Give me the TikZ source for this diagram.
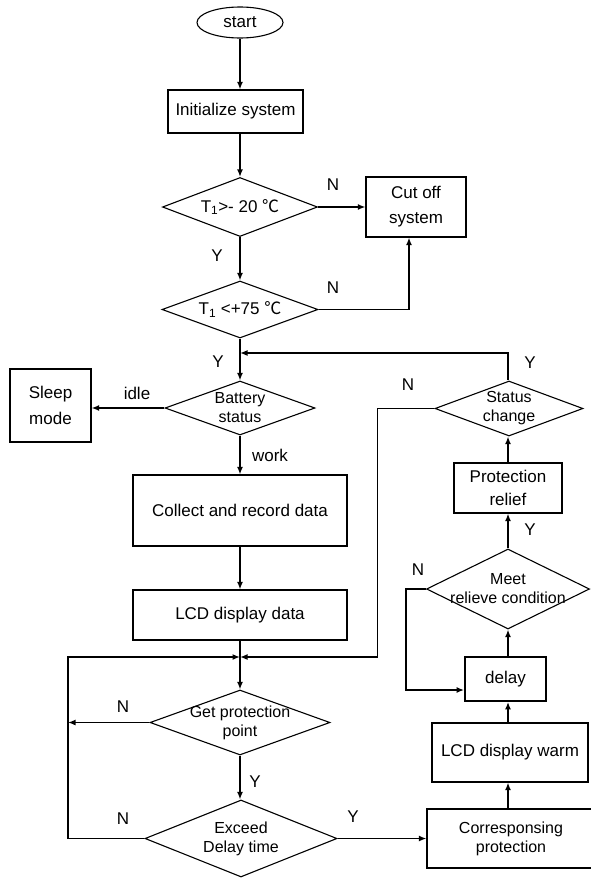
\documentclass[tikz,border=0pt]{standalone}
\usepackage{fontspec}
\setmainfont{Liberation Sans}
\newfontfamily\cjk{Noto Sans CJK SC}
\usetikzlibrary{shapes.geometric,arrows.meta,calc}
\begin{document}
\begin{tikzpicture}[x=1pt,y=-1pt,
  box/.style={draw, line width=1.1pt, rectangle, inner sep=0pt, align=center, font=\fontsize{17}{25}\selectfont},
  dia/.style={draw, line width=1.1pt, diamond, inner sep=0pt},
  dtxt/.style={align=center, inner sep=0pt, font=\fontsize{16}{19}\selectfont},
  ttxt/.style={align=center, inner sep=0pt, font=\fontsize{17}{20}\selectfont},
  conn/.style={line width=1.5pt, -{Latex[length=7.5pt,width=6pt]}},
  lab/.style={font=\fontsize{17}{20}\selectfont, inner sep=0pt}
]
\useasboundingbox (0,0) rectangle (591,878);

% nodes
\node[draw, line width=1.1pt, ellipse, inner sep=0pt, minimum width=86pt, minimum height=31pt, font=\fontsize{17}{20}\selectfont] (start) at (240,22.5) {start};
\node[box, minimum width=135pt, minimum height=43pt] (init) at (235.5,111.5) {Initialize system};
\node[dia, minimum width=155pt, minimum height=59pt] (d1) at (240,207) {};
\node[ttxt] (d1t) at (d1) {T\textsubscript{1}>- 20 {\cjk ℃}};
\node[box, minimum width=100pt, minimum height=60pt] (cut) at (416,207) {Cut off\\system};
\node[dia, minimum width=156pt, minimum height=57pt] (d2) at (240,309.5) {};
\node[ttxt] (d2t) at (d2) {T\textsubscript{1} <+75 {\cjk ℃}};
\node[dia, minimum width=150pt, minimum height=54pt] (bat) at (240,408) {};
\node[dtxt] (batt) at (bat) {Battery\\status};
\node[box, minimum width=81pt, minimum height=73pt, font=\fontsize{17}{26}\selectfont] (sleep) at (50.5,405.5) {Sleep\\mode};
\node[box, minimum width=214pt, minimum height=71pt] (collect) at (240,510.5) {Collect and record data};
\node[box, minimum width=214pt, minimum height=50pt] (lcd) at (240,615) {LCD display data};
\coordinate (j) at (240,657);
\coordinate (jtop) at (240,353);
\coordinate (lx) at (68,0);
\node[dia, minimum width=180pt, minimum height=65pt] (gp) at (240,722.5) {};
\node[dtxt] (gpt) at (gp) {Get protection\\point};
\node[dia, minimum width=192pt, minimum height=77pt] (ex) at (241,838.5) {};
\node[dtxt] (ext) at (ex) {Exceed\\Delay time};
\node[box, minimum width=168pt, minimum height=59pt, font=\fontsize{16}{19}\selectfont] (corr) at (511,838.5) {Corresponsing\\protection};
\node[box, minimum width=156pt, minimum height=59pt] (warm) at (510,752.5) {LCD display warm};
\node[box, line width=1.8pt, minimum width=81pt, minimum height=44pt] (delay) at (505.5,679) {delay};
\node[dia, minimum width=163pt, minimum height=80pt] (meet) at (508,589) {};
\node[dtxt] (meett) at (meet) {Meet\\relieve condition};
\node[box, minimum width=108pt, minimum height=50pt, font=\fontsize{17}{23}\selectfont] (relief) at (508,488) {Protection\\relief};
\node[dia, minimum width=148pt, minimum height=55pt] (sc) at (509,408.5) {};
\node[dtxt] (sct) at (sc) {Status\\change};

% connectors
\draw[conn] (start.south) -- (start.south |- init.north);
\draw[conn] (start.south |- init.south) -- (d1.north);
\draw[conn] (d1.east) -- (cut.west);
\draw[conn] (d1.south) -- (d2.north);
\draw[conn] (d2.east) -| ($(cut.south)+(-7,0)$);
\draw[conn] (d2.south) -- (bat.north);
\draw[conn] (sc.north -| relief.north) |- (jtop);
\draw[conn] (bat.west) -- (bat.west -| sleep.east);
\draw[conn] (bat.south) -- (collect.north);
\draw[conn] (collect.south) -- (lcd.north);
\draw[conn] (lcd.south) -- (gp.north);
\draw[conn] (sc.west) -- ++(-57,0) |- (j);
\draw[conn] (ex.west) -- (ex.west -| lx) |- (j);
\draw[conn] (gp.west) -- (gp.west -| lx);
\draw[conn] (gp.south) -- (gp.south |- ex.north);
\draw[conn] (ex.east) -- (corr.west);
\draw[conn] (relief.south |- corr.north) -- (relief.south |- warm.south);
\draw[conn] (relief.south |- warm.north) -- (relief.south |- delay.south);
\draw[conn] (relief.south |- delay.north) -- (meet.south);
\draw[conn] (meet.west) -- ++(-20,0) |- ($(delay.west)+(0,11)$);
\draw[conn] (meet.north) -- (relief.south);
\draw[conn] (relief.north) -- (relief.north |- sc.south);

% labels
\node[lab] (n1) at (333,185) {N};
\node[lab] (y1) at (217,256) {Y};
\node[lab] (n2) at (333,288) {N};
\node[lab] (y2) at (218,362) {Y};
\node[lab] (y3) at (530,363) {Y};
\node[lab] (idle) at (137,393) {idle};
\node[lab] (n3) at (408,385) {N};
\node[lab] (work) at (270,455) {work};
\node[lab] (y4) at (530,530) {Y};
\node[lab] (n4) at (418,570) {N};
\node[lab] (n5) at (123,707) {N};
\node[lab] (y5) at (255,782) {Y};
\node[lab] (n6) at (123,819) {N};
\node[lab] (y6) at (353,817) {Y};
\end{tikzpicture}
\end{document}
